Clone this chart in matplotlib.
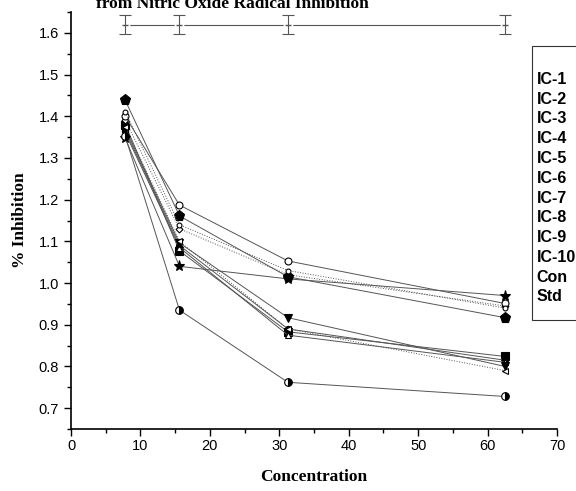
import matplotlib
matplotlib.use('Agg')
import matplotlib.pyplot as plt
from matplotlib.ticker import MultipleLocator

# concentrations (x) and % inhibition readings per sample
conc = [7.8125, 15.625, 31.25, 62.5]

ic1 = [1.380, 1.077, 0.883, 0.824]
ic2 = [1.365, 1.090, 0.890, 0.815]
ic3 = [1.360, 1.085, 0.875, 0.810]
ic4 = [1.370, 1.096, 0.917, 0.800]
ic5 = [1.390, 1.130, 1.020, 0.945]
ic6 = [1.375, 1.100, 0.890, 0.790]
ic7 = [1.400, 1.187, 1.053, 0.951]
ic8 = [1.347, 1.040, 1.010, 0.970]
ic9 = [1.438, 1.161, 1.015, 0.917]
ic10 = [1.352, 0.935, 0.762, 0.728]
con = [1.410, 1.140, 1.030, 0.940]
std = [1.62, 1.62, 1.62, 1.62]
std_err = [0.022, 0.022, 0.022, 0.022]

labels = ['IC-1', 'IC-2', 'IC-3', 'IC-4', 'IC-5', 'IC-6', 'IC-7', 'IC-8',
          'IC-9', 'IC-10', 'Con', 'Std']

fig = plt.figure(figsize=(5.76, 4.91), dpi=100)
ax = fig.add_axes([71 / 576, 1 - 429 / 491, (557 - 71) / 576, (429 - 12) / 491])

line_col = '#555555'
series = [
    (ic1, dict(marker='s', mfc='black', ms=5.5, ls='-')),
    (ic2, dict(marker='o', mfc='black', ms=4.5, ls='-')),
    (ic3, dict(marker='^', mfc='white', ms=4.5, ls='-')),
    (ic4, dict(marker='v', mfc='black', ms=6, ls='-')),
    (ic5, dict(marker='D', mfc='white', ms=3.5, ls=':')),
    (ic6, dict(marker='<', mfc='white', ms=4, ls=':')),
    (ic7, dict(marker='o', mfc='white', ms=5, ls='-')),
    (ic8, dict(marker='*', mfc='black', ms=8, ls='-')),
    (ic9, dict(marker='p', mfc='black', ms=8, ls='-')),
    (ic10, dict(marker='o', mfc='black', ms=5.5, ls='-', fillstyle='right',
                markerfacecoloralt='white')),
    (con, dict(marker='o', mfc='white', ms=3.5, ls=':')),
]

handles = []
for vals, kw in series:
    h, = ax.plot(conc, vals, color=line_col, lw=0.7, mec='black', mew=0.8, **kw)
    handles.append(h)

# Std series: line broken around each point, with error bars
h, = ax.plot(conc, std, color=line_col, lw=0.8, marker='o', ms=6,
             mfc='white', mec='white', zorder=3)
ax.errorbar(conc, std, yerr=std_err, fmt='none', ecolor=line_col,
            elinewidth=0.8, capsize=4, capthick=0.8, zorder=4)
ax.plot(conc, std, ls='none', marker='_', ms=5, color=line_col, zorder=4)
handles.append(h)

ax.set_xlim(0, 70)
ax.set_ylim(0.65, 1.65)
ax.xaxis.set_major_locator(MultipleLocator(10))
ax.xaxis.set_minor_locator(MultipleLocator(5))
ax.yaxis.set_major_locator(MultipleLocator(0.1))
ax.yaxis.set_minor_locator(MultipleLocator(0.05))
ax.yaxis.set_major_formatter(plt.FormatStrFormatter('%.1f'))

ax.spines['top'].set_visible(False)
ax.spines['right'].set_visible(False)
for s in ['left', 'bottom']:
    ax.spines[s].set_linewidth(1.2)
ax.tick_params(which='both', direction='out', width=1, labelsize=10.5)
ax.tick_params(which='major', length=5)
ax.tick_params(which='minor', length=3)
ax.tick_params(axis='x', pad=2.5)
for t in ax.get_xticklabels() + ax.get_yticklabels():
    t.set_fontfamily('Liberation Sans')

ax.set_xlabel('Concentration', fontfamily='Liberation Serif', fontweight='bold',
              fontsize=12.5, labelpad=11)
ax.set_ylabel('% Inhibition', fontfamily='Liberation Serif', fontweight='bold',
              fontsize=12.5, labelpad=8)

fig.text(232 / 576, 1 - 8 / 491, 'from Nitric Oxide Radical Inhibition',
         ha='center', va='baseline', fontfamily='Liberation Serif',
         fontweight='bold', fontsize=12.5)

leg = ax.legend(handles, labels, loc='upper left',
                bbox_to_anchor=(532 / 576, 1 - 46 / 491),
                bbox_transform=fig.transFigure, borderaxespad=0,
                frameon=True, fancybox=False,
                handlelength=0, handletextpad=-0.72, borderpad=1.0,
                labelspacing=0.3, title=' ', title_fontsize=4,
                prop={'family': 'Liberation Sans', 'weight': 'bold', 'size': 11.5})
leg.get_frame().set_edgecolor('black')
leg.get_frame().set_linewidth(0.8)
for lh in leg.legend_handles:
    lh.set_visible(False)

fig.savefig('out.png', dpi=100)
